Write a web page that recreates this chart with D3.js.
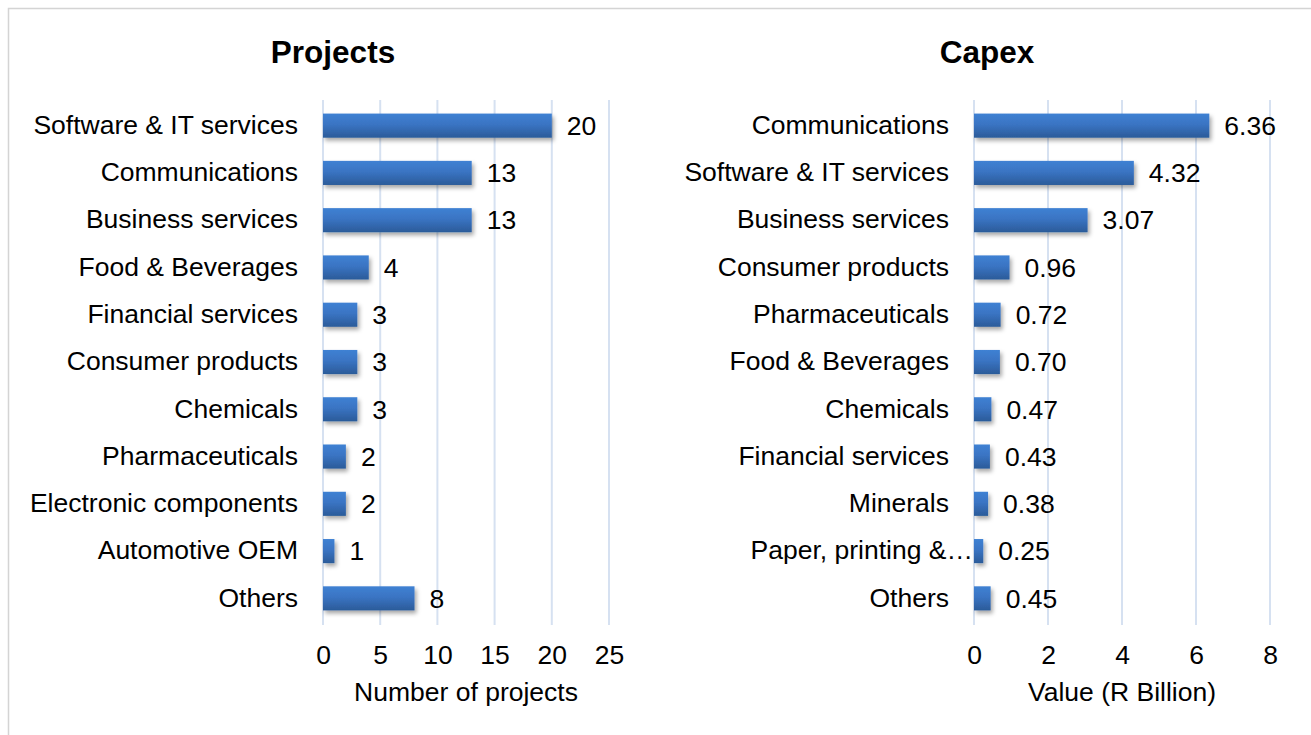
<!DOCTYPE html>
<html>
<head>
<meta charset="utf-8">
<script src="https://cdn.jsdelivr.net/npm/d3@7"></script>
<style>
  html, body { margin: 0; padding: 0; background: #fff; }
  svg { display: block; font-family: "Liberation Sans", Arial, sans-serif; }
</style>
</head>
<body>
<svg id="chart"></svg>
<script>
// data
const projectCats = ["Software & IT services", "Communications", "Business services", "Food & Beverages",
  "Financial services", "Consumer products", "Chemicals", "Pharmaceuticals",
  "Electronic components", "Automotive OEM", "Others"];
const projectVals = [20, 13, 13, 4, 3, 3, 3, 2, 2, 1, 8];
const projectTicks = [0, 5, 10, 15, 20, 25];

const capexCats = ["Communications", "Software & IT services", "Business services", "Consumer products",
  "Pharmaceuticals", "Food & Beverages", "Chemicals", "Financial services",
  "Minerals", "Paper, printing &…", "Others"];
const capexVals = [6.36, 4.32, 3.07, 0.96, 0.72, 0.70, 0.47, 0.43, 0.38, 0.25, 0.45];
const capexTicks = [0, 2, 4, 6, 8];

const width = 1311;
const height = 735;
const fontSize = 26.5;

const svg = d3.select("#chart")
  .attr("width", width)
  .attr("height", height)
  .attr("viewBox", [0, 0, width, height]);

// gradient + shadow for the bars
const defs = svg.append("defs");
const grad = defs.append("linearGradient")
  .attr("id", "barGrad")
  .attr("x1", 0).attr("y1", 0).attr("x2", 0).attr("y2", 1);
grad.append("stop").attr("offset", "0%").attr("stop-color", "#3f81d3");
grad.append("stop").attr("offset", "45%").attr("stop-color", "#3a74c3");
grad.append("stop").attr("offset", "100%").attr("stop-color", "#2b5b99");

defs.append("filter")
  .attr("id", "shadow")
  .attr("x", "-20%").attr("y", "-30%").attr("width", "160%").attr("height", "190%")
  .append("feDropShadow")
  .attr("dx", 2).attr("dy", 3)
  .attr("stdDeviation", 2.2)
  .attr("flood-color", "#000")
  .attr("flood-opacity", 0.35);

// outer frame (cut off on the right and bottom)
svg.append("rect")
  .attr("x", 8.5).attr("y", 8.5)
  .attr("width", width).attr("height", height)
  .attr("fill", "none")
  .attr("stroke", "#d4d4d4")
  .attr("stroke-width", 1.5);

// one panel: title, gridlines, bars, labels
function drawPanel(cfg) {
  const g = svg.append("g");

  const x = d3.scaleLinear()
    .domain([0, cfg.max])
    .range([cfg.x0, cfg.x1]);

  const y = d3.scaleBand()
    .domain(cfg.cats)
    .range([102, 622])
    .paddingInner(0.49)
    .paddingOuter(0.245);

  // gridlines
  g.append("g")
    .selectAll("line")
    .data(cfg.ticks)
    .join("line")
    .attr("x1", d => x(d)).attr("x2", d => x(d))
    .attr("y1", 100).attr("y2", 625)
    .attr("stroke", "#d6e1f1")
    .attr("stroke-width", 2);

  // title
  g.append("text")
    .attr("x", cfg.titleX)
    .attr("y", 63)
    .attr("text-anchor", "middle")
    .attr("font-size", 31.5)
    .attr("font-weight", "bold")
    .text(cfg.title);

  // bars
  g.append("g")
    .attr("filter", "url(#shadow)")
    .selectAll("rect")
    .data(cfg.vals)
    .join("rect")
    .attr("x", x(0))
    .attr("y", (d, i) => y(cfg.cats[i]))
    .attr("width", d => x(d) - x(0))
    .attr("height", y.bandwidth())
    .attr("fill", "url(#barGrad)");

  // value labels
  g.append("g")
    .selectAll("text")
    .data(cfg.vals)
    .join("text")
    .attr("x", d => x(d) + 15)
    .attr("y", (d, i) => y(cfg.cats[i]) + y.bandwidth() / 2)
    .attr("dy", "0.35em")
    .attr("font-size", fontSize)
    .attr("fill", "#000")
    .text(cfg.fmt);

  // category labels
  g.append("g")
    .selectAll("text")
    .data(cfg.cats)
    .join("text")
    .attr("x", d => d.endsWith("…") ? x(0) - 1 : x(0) - 25)
    .attr("y", d => y(d) + y.bandwidth() / 2 - 1)
    .attr("dy", "0.35em")
    .attr("text-anchor", "end")
    .attr("font-size", fontSize)
    .attr("fill", "#000")
    .text(d => d);

  // axis tick labels
  const axis = d3.axisBottom(x)
    .tickValues(cfg.ticks)
    .tickSize(0)
    .tickPadding(0);
  const ax = g.append("g")
    .attr("transform", "translate(0,646)")
    .call(axis);
  ax.select(".domain").remove();
  ax.selectAll("text")
    .attr("font-size", fontSize)
    .attr("font-family", "'Liberation Sans', Arial, sans-serif")
    .attr("fill", "#000")
    .attr("dy", "0.35em")
    .attr("y", 9);

  // axis title
  g.append("text")
    .attr("x", (cfg.x0 + cfg.x1) / 2)
    .attr("y", 692)
    .attr("dy", "0.35em")
    .attr("text-anchor", "middle")
    .attr("font-size", fontSize)
    .text(cfg.axisTitle);
}

drawPanel({
  title: "Projects",
  titleX: 333,
  cats: projectCats,
  vals: projectVals,
  ticks: projectTicks,
  max: 25,
  x0: 323,
  x1: 609,
  fmt: d => d,
  axisTitle: "Number of projects"
});

drawPanel({
  title: "Capex",
  titleX: 987,
  cats: capexCats,
  vals: capexVals,
  ticks: capexTicks,
  max: 8,
  x0: 974,
  x1: 1270,
  fmt: d => d.toFixed(2),
  axisTitle: "Value (R Billion)"
});
</script>
</body>
</html>
